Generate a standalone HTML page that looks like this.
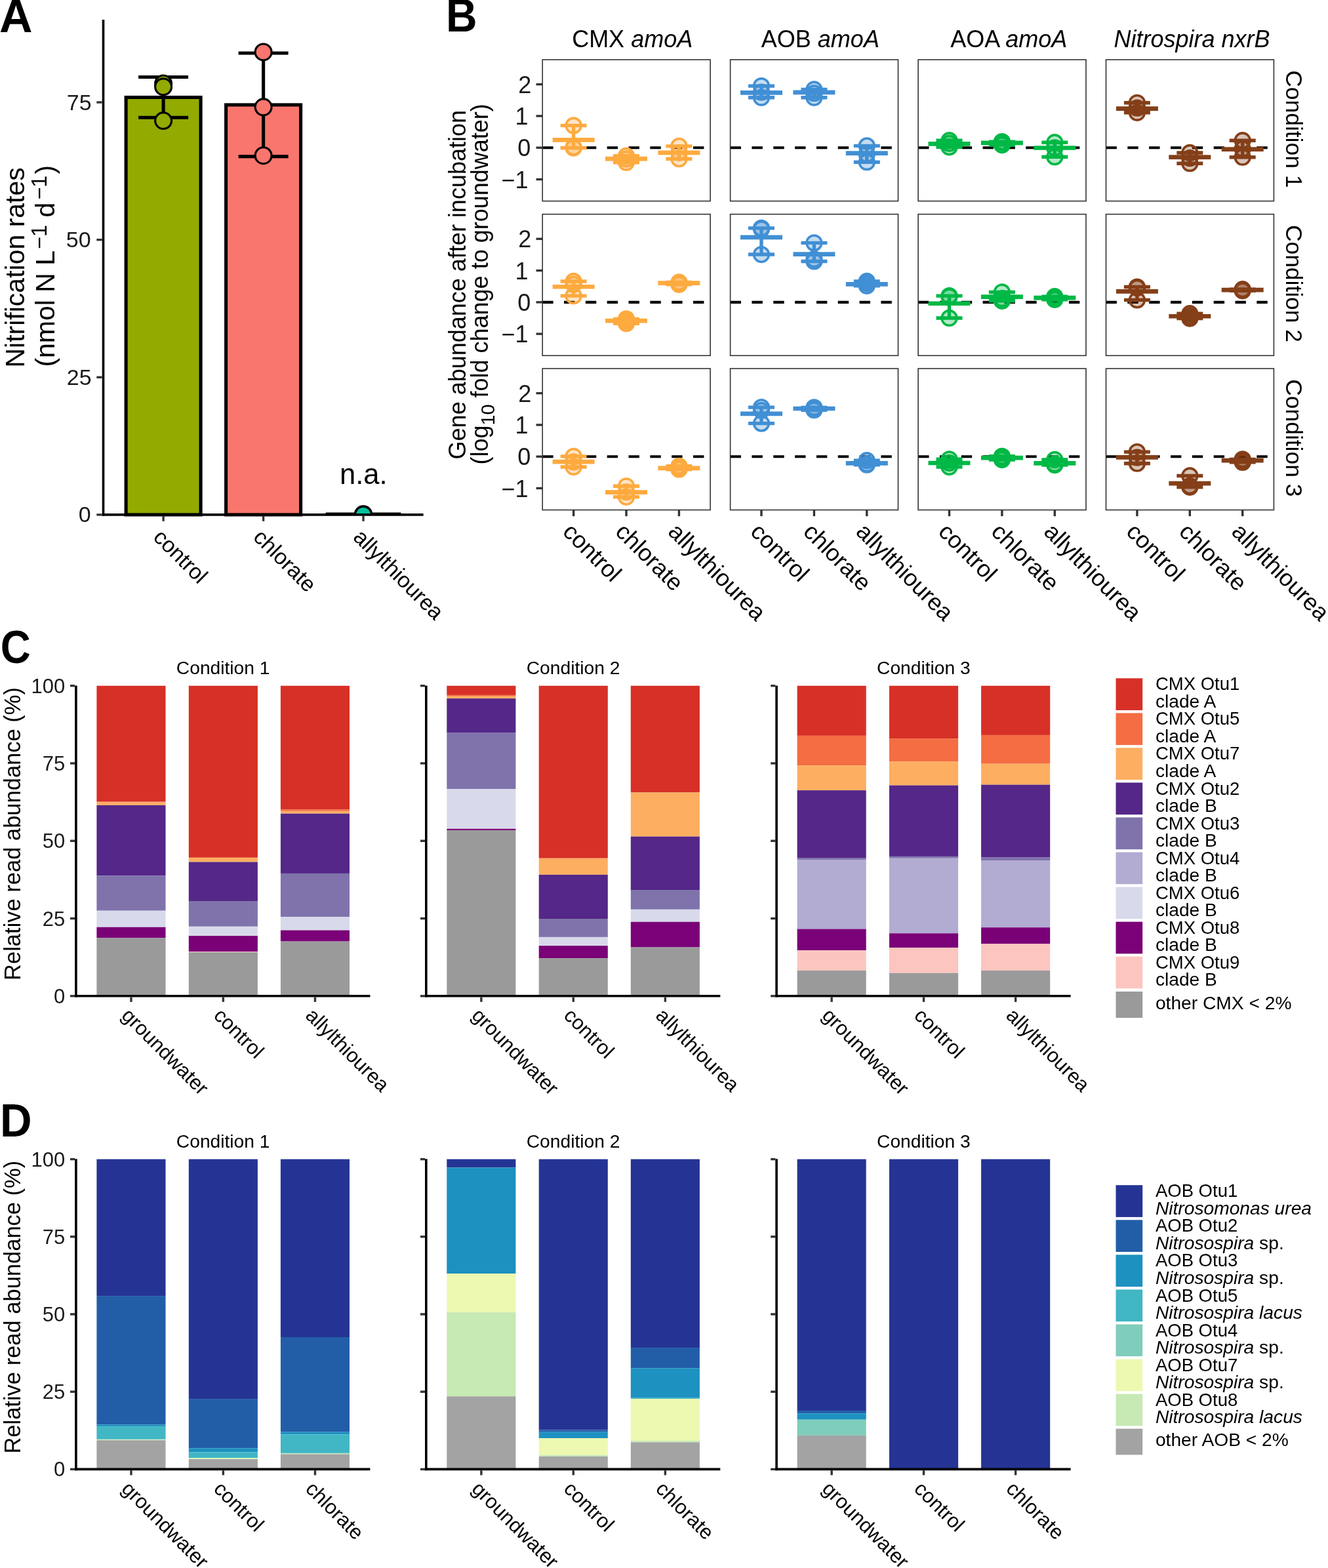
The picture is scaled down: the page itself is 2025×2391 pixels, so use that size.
<!DOCTYPE html>
<html><head><meta charset="utf-8"><title>Figure</title>
<style>
html,body{margin:0;padding:0;background:#fff;}
svg{display:block;}
text{font-family:"Liberation Sans", Arial, Helvetica, sans-serif;}
</style></head>
<body>
<svg width="2025" height="2391" viewBox="0 0 2025 2391">
<rect x="0" y="0" width="2025" height="2391" fill="#fff"/>
<text transform="translate(-0.9,48.8)" font-size="70" font-weight="bold">A</text>
<text transform="translate(680.1,48.2) scale(0.94,1)" font-size="70" font-weight="bold">B</text>
<text transform="translate(0.7,1011.3) scale(0.91,1)" font-size="70" font-weight="bold">C</text>
<text transform="translate(0.1,1733.2) scale(0.96,1)" font-size="70" font-weight="bold">D</text>
<rect x="192.1" y="148.45" width="114" height="636.45" fill="#93AA00" stroke="#000" stroke-width="5.1"/>
<rect x="344.6" y="159.9" width="114" height="625" fill="#F8766D" stroke="#000" stroke-width="5.1"/>
<line x1="496.6" y1="783.7" x2="611.4" y2="783.7" stroke="#000" stroke-width="4.4"/>
<line x1="249.1" y1="117.5" x2="249.1" y2="179.2" stroke="#000" stroke-width="5.1"/>
<line x1="211.1" y1="117.5" x2="287.1" y2="117.5" stroke="#000" stroke-width="5.1"/>
<line x1="211.1" y1="179.2" x2="287.1" y2="179.2" stroke="#000" stroke-width="5.1"/>
<line x1="401.6" y1="81" x2="401.6" y2="238.6" stroke="#000" stroke-width="5.1"/>
<line x1="363.6" y1="81" x2="439.6" y2="81" stroke="#000" stroke-width="5.1"/>
<line x1="363.6" y1="238.6" x2="439.6" y2="238.6" stroke="#000" stroke-width="5.1"/>
<clipPath id="clipA"><rect x="150" y="0" width="520" height="784.9"/></clipPath>
<g clip-path="url(#clipA)">
<circle cx="249.1" cy="127.5" r="12.45" fill="#93AA00" stroke="#000" stroke-width="3.1"/>
<circle cx="249.1" cy="132.3" r="12.45" fill="#93AA00" stroke="#000" stroke-width="3.1"/>
<circle cx="249.1" cy="184.1" r="12.45" fill="#93AA00" stroke="#000" stroke-width="3.1"/>
<circle cx="401.6" cy="79.4" r="12.45" fill="#F8766D" stroke="#000" stroke-width="3.1"/>
<circle cx="401.6" cy="163.3" r="12.45" fill="#F8766D" stroke="#000" stroke-width="3.1"/>
<circle cx="401.6" cy="237.2" r="12.45" fill="#F8766D" stroke="#000" stroke-width="3.1"/>
<circle cx="554" cy="784.6" r="12.5" fill="#00C19F" stroke="#000" stroke-width="3.6"/>
</g>
<line x1="157.5" y1="30" x2="157.5" y2="786.7" stroke="#000" stroke-width="3.6"/>
<line x1="155.7" y1="784.9" x2="645.6" y2="784.9" stroke="#000" stroke-width="3.6"/>
<line x1="147.3" y1="784.9" x2="155.7" y2="784.9" stroke="#333333" stroke-width="3.4"/>
<text transform="translate(138.7,796.4)" font-size="34" text-anchor="end" fill="#1a1a1a">0</text>
<line x1="147.3" y1="575.27" x2="155.7" y2="575.27" stroke="#333333" stroke-width="3.4"/>
<text transform="translate(139.7,586.77)" font-size="34" text-anchor="end" fill="#1a1a1a">25</text>
<line x1="147.3" y1="365.63" x2="155.7" y2="365.63" stroke="#333333" stroke-width="3.4"/>
<text transform="translate(138.7,377.13)" font-size="34" text-anchor="end" fill="#1a1a1a">50</text>
<line x1="147.3" y1="156" x2="155.7" y2="156" stroke="#333333" stroke-width="3.4"/>
<text transform="translate(139.7,167.5)" font-size="34" text-anchor="end" fill="#1a1a1a">75</text>
<line x1="249.1" y1="786.7" x2="249.1" y2="794.8" stroke="#333333" stroke-width="3.4"/>
<line x1="401.6" y1="786.7" x2="401.6" y2="794.8" stroke="#333333" stroke-width="3.4"/>
<line x1="554" y1="786.7" x2="554" y2="794.8" stroke="#333333" stroke-width="3.4"/>
<text transform="translate(554.25,738.2)" font-size="43.5" text-anchor="middle">n.a.</text>
<text transform="translate(232,820.9) rotate(45)" font-size="33.4">control</text>
<text transform="translate(384.5,820.9) rotate(45)" font-size="33.4">chlorate</text>
<text transform="translate(536.9,820.9) rotate(45)" font-size="33.4">allylthiourea</text>
<text transform="translate(37.3,560.5) rotate(-90)" font-size="41">Nitrification rates</text>
<text transform="translate(83.4,559.6) rotate(-90)" font-size="41">(nmol N L<tspan font-size="32.5" dy="-12.3" dx="2">−1</tspan><tspan dy="12.3" dx="0"> d</tspan><tspan font-size="32.5" dy="-12.3" dx="4">−1</tspan><tspan dy="12.3" dx="2">)</tspan></text>
<text transform="translate(964.15,72.2)" font-size="36" text-anchor="middle">CMX <tspan font-style="italic">amoA</tspan></text>
<text transform="translate(1250.85,72.2)" font-size="36" text-anchor="middle">AOB <tspan font-style="italic">amoA</tspan></text>
<text transform="translate(1538.25,72.2)" font-size="36" text-anchor="middle">AOA <tspan font-style="italic">amoA</tspan></text>
<text transform="translate(1817.5,72.2)" font-size="36" text-anchor="middle"><tspan font-style="italic">Nitrospira nxrB</tspan></text>
<line x1="817.5" y1="128.6" x2="827.2" y2="128.6" stroke="#333333" stroke-width="3.4"/>
<text transform="translate(810.4,141.6)" font-size="36" text-anchor="end" fill="#1a1a1a">2</text>
<line x1="817.5" y1="176.9" x2="827.2" y2="176.9" stroke="#333333" stroke-width="3.4"/>
<text transform="translate(805.6,189.9)" font-size="36" text-anchor="end" fill="#1a1a1a">1</text>
<line x1="817.5" y1="225.2" x2="827.2" y2="225.2" stroke="#333333" stroke-width="3.4"/>
<text transform="translate(809.4,238.2)" font-size="36" text-anchor="end" fill="#1a1a1a">0</text>
<line x1="817.5" y1="273.5" x2="827.2" y2="273.5" stroke="#333333" stroke-width="3.4"/>
<text transform="translate(805.6,286.5)" font-size="36" text-anchor="end" fill="#1a1a1a">−1</text>
<text transform="translate(1961.2,196.8) rotate(90)" font-size="35.4" text-anchor="middle">Condition 1</text>
<line x1="827.2" y1="225.2" x2="1083.1" y2="225.2" stroke="#000" stroke-width="4.1" stroke-dasharray="16.4 16.43"/>
<circle cx="874.6" cy="191.4" r="11.35" fill="#FDAA3F" fill-opacity="0.3" stroke="#FDAA3F" stroke-width="3.6"/>
<circle cx="874.6" cy="224.5" r="11.35" fill="#FDAA3F" fill-opacity="0.3" stroke="#FDAA3F" stroke-width="3.6"/>
<circle cx="874.6" cy="225.5" r="11.35" fill="#FDAA3F" fill-opacity="0.3" stroke="#FDAA3F" stroke-width="3.6"/>
<line x1="874.6" y1="191.4" x2="874.6" y2="225.5" stroke="#FDAA3F" stroke-width="5.4"/>
<line x1="854.6" y1="191.4" x2="894.6" y2="191.4" stroke="#FDAA3F" stroke-width="5.4"/>
<line x1="854.6" y1="225.5" x2="894.6" y2="225.5" stroke="#FDAA3F" stroke-width="5.4"/>
<line x1="842.6" y1="213.4" x2="906.6" y2="213.4" stroke="#FDAA3F" stroke-width="6.7"/>
<circle cx="955" cy="237.7" r="11.35" fill="#FDAA3F" fill-opacity="0.3" stroke="#FDAA3F" stroke-width="3.6"/>
<circle cx="955" cy="242.5" r="11.35" fill="#FDAA3F" fill-opacity="0.3" stroke="#FDAA3F" stroke-width="3.6"/>
<circle cx="955" cy="247.7" r="11.35" fill="#FDAA3F" fill-opacity="0.3" stroke="#FDAA3F" stroke-width="3.6"/>
<line x1="955" y1="237.7" x2="955" y2="247.7" stroke="#FDAA3F" stroke-width="5.4"/>
<line x1="935" y1="237.7" x2="975" y2="237.7" stroke="#FDAA3F" stroke-width="5.4"/>
<line x1="935" y1="247.7" x2="975" y2="247.7" stroke="#FDAA3F" stroke-width="5.4"/>
<line x1="923" y1="242.1" x2="987" y2="242.1" stroke="#FDAA3F" stroke-width="6.7"/>
<circle cx="1035.4" cy="222.9" r="11.35" fill="#FDAA3F" fill-opacity="0.3" stroke="#FDAA3F" stroke-width="3.6"/>
<circle cx="1035.4" cy="232.8" r="11.35" fill="#FDAA3F" fill-opacity="0.3" stroke="#FDAA3F" stroke-width="3.6"/>
<circle cx="1035.4" cy="242.2" r="11.35" fill="#FDAA3F" fill-opacity="0.3" stroke="#FDAA3F" stroke-width="3.6"/>
<line x1="1035.4" y1="222.9" x2="1035.4" y2="242.2" stroke="#FDAA3F" stroke-width="5.4"/>
<line x1="1015.4" y1="222.9" x2="1055.4" y2="222.9" stroke="#FDAA3F" stroke-width="5.4"/>
<line x1="1015.4" y1="242.2" x2="1055.4" y2="242.2" stroke="#FDAA3F" stroke-width="5.4"/>
<line x1="1003.4" y1="232.8" x2="1067.4" y2="232.8" stroke="#FDAA3F" stroke-width="6.7"/>
<rect x="827.2" y="91" width="255.9" height="215.6" fill="none" stroke="#333" stroke-width="1.6"/>
<line x1="1113.6" y1="225.2" x2="1369.5" y2="225.2" stroke="#000" stroke-width="4.1" stroke-dasharray="16.4 16.43"/>
<circle cx="1161" cy="131.1" r="11.35" fill="#418FD4" fill-opacity="0.3" stroke="#418FD4" stroke-width="3.6"/>
<circle cx="1161" cy="140.6" r="11.35" fill="#418FD4" fill-opacity="0.3" stroke="#418FD4" stroke-width="3.6"/>
<circle cx="1161" cy="148.8" r="11.35" fill="#418FD4" fill-opacity="0.3" stroke="#418FD4" stroke-width="3.6"/>
<line x1="1161" y1="131.1" x2="1161" y2="148.8" stroke="#418FD4" stroke-width="5.4"/>
<line x1="1141" y1="131.1" x2="1181" y2="131.1" stroke="#418FD4" stroke-width="5.4"/>
<line x1="1141" y1="148.8" x2="1181" y2="148.8" stroke="#418FD4" stroke-width="5.4"/>
<line x1="1129" y1="141.3" x2="1193" y2="141.3" stroke="#418FD4" stroke-width="6.7"/>
<circle cx="1241.4" cy="136.5" r="11.35" fill="#418FD4" fill-opacity="0.3" stroke="#418FD4" stroke-width="3.6"/>
<circle cx="1241.4" cy="142.1" r="11.35" fill="#418FD4" fill-opacity="0.3" stroke="#418FD4" stroke-width="3.6"/>
<circle cx="1241.4" cy="148.8" r="11.35" fill="#418FD4" fill-opacity="0.3" stroke="#418FD4" stroke-width="3.6"/>
<line x1="1241.4" y1="136.5" x2="1241.4" y2="148.8" stroke="#418FD4" stroke-width="5.4"/>
<line x1="1221.4" y1="136.5" x2="1261.4" y2="136.5" stroke="#418FD4" stroke-width="5.4"/>
<line x1="1221.4" y1="148.8" x2="1261.4" y2="148.8" stroke="#418FD4" stroke-width="5.4"/>
<line x1="1209.4" y1="140.9" x2="1273.4" y2="140.9" stroke="#418FD4" stroke-width="6.7"/>
<circle cx="1321.8" cy="222.4" r="11.35" fill="#418FD4" fill-opacity="0.3" stroke="#418FD4" stroke-width="3.6"/>
<circle cx="1321.8" cy="235.2" r="11.35" fill="#418FD4" fill-opacity="0.3" stroke="#418FD4" stroke-width="3.6"/>
<circle cx="1321.8" cy="247.2" r="11.35" fill="#418FD4" fill-opacity="0.3" stroke="#418FD4" stroke-width="3.6"/>
<line x1="1321.8" y1="222.4" x2="1321.8" y2="247.2" stroke="#418FD4" stroke-width="5.4"/>
<line x1="1301.8" y1="222.4" x2="1341.8" y2="222.4" stroke="#418FD4" stroke-width="5.4"/>
<line x1="1301.8" y1="247.2" x2="1341.8" y2="247.2" stroke="#418FD4" stroke-width="5.4"/>
<line x1="1289.8" y1="233.7" x2="1353.8" y2="233.7" stroke="#418FD4" stroke-width="6.7"/>
<rect x="1113.6" y="91" width="255.9" height="215.6" fill="none" stroke="#333" stroke-width="1.6"/>
<line x1="1400.1" y1="225.2" x2="1656" y2="225.2" stroke="#000" stroke-width="4.1" stroke-dasharray="16.4 16.43"/>
<circle cx="1447.5" cy="214.2" r="11.35" fill="#00B845" fill-opacity="0.3" stroke="#00B845" stroke-width="3.6"/>
<circle cx="1447.5" cy="218.7" r="11.35" fill="#00B845" fill-opacity="0.3" stroke="#00B845" stroke-width="3.6"/>
<circle cx="1447.5" cy="224.3" r="11.35" fill="#00B845" fill-opacity="0.3" stroke="#00B845" stroke-width="3.6"/>
<line x1="1447.5" y1="214.2" x2="1447.5" y2="224.3" stroke="#00B845" stroke-width="5.4"/>
<line x1="1427.5" y1="214.2" x2="1467.5" y2="214.2" stroke="#00B845" stroke-width="5.4"/>
<line x1="1427.5" y1="224.3" x2="1467.5" y2="224.3" stroke="#00B845" stroke-width="5.4"/>
<line x1="1415.5" y1="219.4" x2="1479.5" y2="219.4" stroke="#00B845" stroke-width="6.7"/>
<circle cx="1527.9" cy="216.1" r="11.35" fill="#00B845" fill-opacity="0.3" stroke="#00B845" stroke-width="3.6"/>
<circle cx="1527.9" cy="217.5" r="11.35" fill="#00B845" fill-opacity="0.3" stroke="#00B845" stroke-width="3.6"/>
<circle cx="1527.9" cy="221" r="11.35" fill="#00B845" fill-opacity="0.3" stroke="#00B845" stroke-width="3.6"/>
<line x1="1527.9" y1="216.1" x2="1527.9" y2="221" stroke="#00B845" stroke-width="5.4"/>
<line x1="1507.9" y1="216.1" x2="1547.9" y2="216.1" stroke="#00B845" stroke-width="5.4"/>
<line x1="1507.9" y1="221" x2="1547.9" y2="221" stroke="#00B845" stroke-width="5.4"/>
<line x1="1495.9" y1="217.9" x2="1559.9" y2="217.9" stroke="#00B845" stroke-width="6.7"/>
<circle cx="1608.3" cy="217.2" r="11.35" fill="#00B845" fill-opacity="0.3" stroke="#00B845" stroke-width="3.6"/>
<circle cx="1608.3" cy="225.5" r="11.35" fill="#00B845" fill-opacity="0.3" stroke="#00B845" stroke-width="3.6"/>
<circle cx="1608.3" cy="239.3" r="11.35" fill="#00B845" fill-opacity="0.3" stroke="#00B845" stroke-width="3.6"/>
<line x1="1608.3" y1="217.2" x2="1608.3" y2="239.3" stroke="#00B845" stroke-width="5.4"/>
<line x1="1588.3" y1="217.2" x2="1628.3" y2="217.2" stroke="#00B845" stroke-width="5.4"/>
<line x1="1588.3" y1="239.3" x2="1628.3" y2="239.3" stroke="#00B845" stroke-width="5.4"/>
<line x1="1576.3" y1="225.5" x2="1640.3" y2="225.5" stroke="#00B845" stroke-width="6.7"/>
<rect x="1400.1" y="91" width="255.9" height="215.6" fill="none" stroke="#333" stroke-width="1.6"/>
<line x1="1686.5" y1="225.2" x2="1942.4" y2="225.2" stroke="#000" stroke-width="4.1" stroke-dasharray="16.4 16.43"/>
<circle cx="1733.9" cy="156.8" r="11.35" fill="#843F18" fill-opacity="0.3" stroke="#843F18" stroke-width="3.6"/>
<circle cx="1733.9" cy="164.6" r="11.35" fill="#843F18" fill-opacity="0.3" stroke="#843F18" stroke-width="3.6"/>
<circle cx="1733.9" cy="171.8" r="11.35" fill="#843F18" fill-opacity="0.3" stroke="#843F18" stroke-width="3.6"/>
<line x1="1733.9" y1="156.8" x2="1733.9" y2="171.8" stroke="#843F18" stroke-width="5.4"/>
<line x1="1713.9" y1="156.8" x2="1753.9" y2="156.8" stroke="#843F18" stroke-width="5.4"/>
<line x1="1713.9" y1="171.8" x2="1753.9" y2="171.8" stroke="#843F18" stroke-width="5.4"/>
<line x1="1701.9" y1="165.7" x2="1765.9" y2="165.7" stroke="#843F18" stroke-width="6.7"/>
<circle cx="1814.3" cy="233" r="11.35" fill="#843F18" fill-opacity="0.3" stroke="#843F18" stroke-width="3.6"/>
<circle cx="1814.3" cy="241.2" r="11.35" fill="#843F18" fill-opacity="0.3" stroke="#843F18" stroke-width="3.6"/>
<circle cx="1814.3" cy="249.2" r="11.35" fill="#843F18" fill-opacity="0.3" stroke="#843F18" stroke-width="3.6"/>
<line x1="1814.3" y1="233" x2="1814.3" y2="249.2" stroke="#843F18" stroke-width="5.4"/>
<line x1="1794.3" y1="233" x2="1834.3" y2="233" stroke="#843F18" stroke-width="5.4"/>
<line x1="1794.3" y1="249.2" x2="1834.3" y2="249.2" stroke="#843F18" stroke-width="5.4"/>
<line x1="1782.3" y1="239.7" x2="1846.3" y2="239.7" stroke="#843F18" stroke-width="6.7"/>
<circle cx="1894.7" cy="214.2" r="11.35" fill="#843F18" fill-opacity="0.3" stroke="#843F18" stroke-width="3.6"/>
<circle cx="1894.7" cy="227" r="11.35" fill="#843F18" fill-opacity="0.3" stroke="#843F18" stroke-width="3.6"/>
<circle cx="1894.7" cy="239.7" r="11.35" fill="#843F18" fill-opacity="0.3" stroke="#843F18" stroke-width="3.6"/>
<line x1="1894.7" y1="214.2" x2="1894.7" y2="239.7" stroke="#843F18" stroke-width="5.4"/>
<line x1="1874.7" y1="214.2" x2="1914.7" y2="214.2" stroke="#843F18" stroke-width="5.4"/>
<line x1="1874.7" y1="239.7" x2="1914.7" y2="239.7" stroke="#843F18" stroke-width="5.4"/>
<line x1="1862.7" y1="227.7" x2="1926.7" y2="227.7" stroke="#843F18" stroke-width="6.7"/>
<rect x="1686.5" y="91" width="255.9" height="215.6" fill="none" stroke="#333" stroke-width="1.6"/>
<line x1="817.5" y1="364.25" x2="827.2" y2="364.25" stroke="#333333" stroke-width="3.4"/>
<text transform="translate(810.4,377.25)" font-size="36" text-anchor="end" fill="#1a1a1a">2</text>
<line x1="817.5" y1="412.55" x2="827.2" y2="412.55" stroke="#333333" stroke-width="3.4"/>
<text transform="translate(805.6,425.55)" font-size="36" text-anchor="end" fill="#1a1a1a">1</text>
<line x1="817.5" y1="460.85" x2="827.2" y2="460.85" stroke="#333333" stroke-width="3.4"/>
<text transform="translate(809.4,473.85)" font-size="36" text-anchor="end" fill="#1a1a1a">0</text>
<line x1="817.5" y1="509.15" x2="827.2" y2="509.15" stroke="#333333" stroke-width="3.4"/>
<text transform="translate(805.6,522.15)" font-size="36" text-anchor="end" fill="#1a1a1a">−1</text>
<text transform="translate(1961.2,432.45) rotate(90)" font-size="35.4" text-anchor="middle">Condition 2</text>
<line x1="827.2" y1="460.85" x2="1083.1" y2="460.85" stroke="#000" stroke-width="4.1" stroke-dasharray="16.4 16.43"/>
<circle cx="874.6" cy="428.95" r="11.35" fill="#FDAA3F" fill-opacity="0.3" stroke="#FDAA3F" stroke-width="3.6"/>
<circle cx="874.6" cy="433.55" r="11.35" fill="#FDAA3F" fill-opacity="0.3" stroke="#FDAA3F" stroke-width="3.6"/>
<circle cx="874.6" cy="451.15" r="11.35" fill="#FDAA3F" fill-opacity="0.3" stroke="#FDAA3F" stroke-width="3.6"/>
<line x1="874.6" y1="428.95" x2="874.6" y2="451.15" stroke="#FDAA3F" stroke-width="5.4"/>
<line x1="854.6" y1="428.95" x2="894.6" y2="428.95" stroke="#FDAA3F" stroke-width="5.4"/>
<line x1="854.6" y1="451.15" x2="894.6" y2="451.15" stroke="#FDAA3F" stroke-width="5.4"/>
<line x1="842.6" y1="437.25" x2="906.6" y2="437.25" stroke="#FDAA3F" stroke-width="6.7"/>
<circle cx="955" cy="486.35" r="11.35" fill="#FDAA3F" fill-opacity="0.3" stroke="#FDAA3F" stroke-width="3.6"/>
<circle cx="955" cy="489.45" r="11.35" fill="#FDAA3F" fill-opacity="0.3" stroke="#FDAA3F" stroke-width="3.6"/>
<circle cx="955" cy="493.25" r="11.35" fill="#FDAA3F" fill-opacity="0.3" stroke="#FDAA3F" stroke-width="3.6"/>
<line x1="955" y1="486.35" x2="955" y2="493.25" stroke="#FDAA3F" stroke-width="5.4"/>
<line x1="935" y1="486.35" x2="975" y2="486.35" stroke="#FDAA3F" stroke-width="5.4"/>
<line x1="935" y1="493.25" x2="975" y2="493.25" stroke="#FDAA3F" stroke-width="5.4"/>
<line x1="923" y1="489.05" x2="987" y2="489.05" stroke="#FDAA3F" stroke-width="6.7"/>
<circle cx="1035.4" cy="430.45" r="11.35" fill="#FDAA3F" fill-opacity="0.3" stroke="#FDAA3F" stroke-width="3.6"/>
<circle cx="1035.4" cy="431.55" r="11.35" fill="#FDAA3F" fill-opacity="0.3" stroke="#FDAA3F" stroke-width="3.6"/>
<circle cx="1035.4" cy="433.75" r="11.35" fill="#FDAA3F" fill-opacity="0.3" stroke="#FDAA3F" stroke-width="3.6"/>
<line x1="1035.4" y1="430.45" x2="1035.4" y2="433.75" stroke="#FDAA3F" stroke-width="5.4"/>
<line x1="1015.4" y1="430.45" x2="1055.4" y2="430.45" stroke="#FDAA3F" stroke-width="5.4"/>
<line x1="1015.4" y1="433.75" x2="1055.4" y2="433.75" stroke="#FDAA3F" stroke-width="5.4"/>
<line x1="1003.4" y1="431.55" x2="1067.4" y2="431.55" stroke="#FDAA3F" stroke-width="6.7"/>
<rect x="827.2" y="326.65" width="255.9" height="215.6" fill="none" stroke="#333" stroke-width="1.6"/>
<line x1="1113.6" y1="460.85" x2="1369.5" y2="460.85" stroke="#000" stroke-width="4.1" stroke-dasharray="16.4 16.43"/>
<circle cx="1161" cy="347.85" r="11.35" fill="#418FD4" fill-opacity="0.3" stroke="#418FD4" stroke-width="3.6"/>
<circle cx="1161" cy="349.35" r="11.35" fill="#418FD4" fill-opacity="0.3" stroke="#418FD4" stroke-width="3.6"/>
<circle cx="1161" cy="388.05" r="11.35" fill="#418FD4" fill-opacity="0.3" stroke="#418FD4" stroke-width="3.6"/>
<line x1="1161" y1="347.85" x2="1161" y2="388.05" stroke="#418FD4" stroke-width="5.4"/>
<line x1="1141" y1="347.85" x2="1181" y2="347.85" stroke="#418FD4" stroke-width="5.4"/>
<line x1="1141" y1="388.05" x2="1181" y2="388.05" stroke="#418FD4" stroke-width="5.4"/>
<line x1="1129" y1="361.85" x2="1193" y2="361.85" stroke="#418FD4" stroke-width="6.7"/>
<circle cx="1241.4" cy="370.35" r="11.35" fill="#418FD4" fill-opacity="0.3" stroke="#418FD4" stroke-width="3.6"/>
<circle cx="1241.4" cy="395.15" r="11.35" fill="#418FD4" fill-opacity="0.3" stroke="#418FD4" stroke-width="3.6"/>
<circle cx="1241.4" cy="398.45" r="11.35" fill="#418FD4" fill-opacity="0.3" stroke="#418FD4" stroke-width="3.6"/>
<line x1="1241.4" y1="370.35" x2="1241.4" y2="398.45" stroke="#418FD4" stroke-width="5.4"/>
<line x1="1221.4" y1="370.35" x2="1261.4" y2="370.35" stroke="#418FD4" stroke-width="5.4"/>
<line x1="1221.4" y1="398.45" x2="1261.4" y2="398.45" stroke="#418FD4" stroke-width="5.4"/>
<line x1="1209.4" y1="387.65" x2="1273.4" y2="387.65" stroke="#418FD4" stroke-width="6.7"/>
<circle cx="1321.8" cy="428.95" r="11.35" fill="#418FD4" fill-opacity="0.3" stroke="#418FD4" stroke-width="3.6"/>
<circle cx="1321.8" cy="432.05" r="11.35" fill="#418FD4" fill-opacity="0.3" stroke="#418FD4" stroke-width="3.6"/>
<circle cx="1321.8" cy="435.75" r="11.35" fill="#418FD4" fill-opacity="0.3" stroke="#418FD4" stroke-width="3.6"/>
<line x1="1321.8" y1="428.95" x2="1321.8" y2="435.75" stroke="#418FD4" stroke-width="5.4"/>
<line x1="1301.8" y1="428.95" x2="1341.8" y2="428.95" stroke="#418FD4" stroke-width="5.4"/>
<line x1="1301.8" y1="435.75" x2="1341.8" y2="435.75" stroke="#418FD4" stroke-width="5.4"/>
<line x1="1289.8" y1="433.45" x2="1353.8" y2="433.45" stroke="#418FD4" stroke-width="6.7"/>
<rect x="1113.6" y="326.65" width="255.9" height="215.6" fill="none" stroke="#333" stroke-width="1.6"/>
<line x1="1400.1" y1="460.85" x2="1656" y2="460.85" stroke="#000" stroke-width="4.1" stroke-dasharray="16.4 16.43"/>
<circle cx="1447.5" cy="451.15" r="11.35" fill="#00B845" fill-opacity="0.3" stroke="#00B845" stroke-width="3.6"/>
<circle cx="1447.5" cy="452.55" r="11.35" fill="#00B845" fill-opacity="0.3" stroke="#00B845" stroke-width="3.6"/>
<circle cx="1447.5" cy="484.95" r="11.35" fill="#00B845" fill-opacity="0.3" stroke="#00B845" stroke-width="3.6"/>
<line x1="1447.5" y1="451.15" x2="1447.5" y2="484.95" stroke="#00B845" stroke-width="5.4"/>
<line x1="1427.5" y1="451.15" x2="1467.5" y2="451.15" stroke="#00B845" stroke-width="5.4"/>
<line x1="1427.5" y1="484.95" x2="1467.5" y2="484.95" stroke="#00B845" stroke-width="5.4"/>
<line x1="1415.5" y1="462.75" x2="1479.5" y2="462.75" stroke="#00B845" stroke-width="6.7"/>
<circle cx="1527.9" cy="445.45" r="11.35" fill="#00B845" fill-opacity="0.3" stroke="#00B845" stroke-width="3.6"/>
<circle cx="1527.9" cy="455.25" r="11.35" fill="#00B845" fill-opacity="0.3" stroke="#00B845" stroke-width="3.6"/>
<circle cx="1527.9" cy="458.75" r="11.35" fill="#00B845" fill-opacity="0.3" stroke="#00B845" stroke-width="3.6"/>
<line x1="1527.9" y1="445.45" x2="1527.9" y2="458.75" stroke="#00B845" stroke-width="5.4"/>
<line x1="1507.9" y1="445.45" x2="1547.9" y2="445.45" stroke="#00B845" stroke-width="5.4"/>
<line x1="1507.9" y1="458.75" x2="1547.9" y2="458.75" stroke="#00B845" stroke-width="5.4"/>
<line x1="1495.9" y1="452.65" x2="1559.9" y2="452.65" stroke="#00B845" stroke-width="6.7"/>
<circle cx="1608.3" cy="452.25" r="11.35" fill="#00B845" fill-opacity="0.3" stroke="#00B845" stroke-width="3.6"/>
<circle cx="1608.3" cy="453.55" r="11.35" fill="#00B845" fill-opacity="0.3" stroke="#00B845" stroke-width="3.6"/>
<circle cx="1608.3" cy="456.75" r="11.35" fill="#00B845" fill-opacity="0.3" stroke="#00B845" stroke-width="3.6"/>
<line x1="1608.3" y1="452.25" x2="1608.3" y2="456.75" stroke="#00B845" stroke-width="5.4"/>
<line x1="1588.3" y1="452.25" x2="1628.3" y2="452.25" stroke="#00B845" stroke-width="5.4"/>
<line x1="1588.3" y1="456.75" x2="1628.3" y2="456.75" stroke="#00B845" stroke-width="5.4"/>
<line x1="1576.3" y1="454.15" x2="1640.3" y2="454.15" stroke="#00B845" stroke-width="6.7"/>
<rect x="1400.1" y="326.65" width="255.9" height="215.6" fill="none" stroke="#333" stroke-width="1.6"/>
<line x1="1686.5" y1="460.85" x2="1942.4" y2="460.85" stroke="#000" stroke-width="4.1" stroke-dasharray="16.4 16.43"/>
<circle cx="1733.9" cy="437.55" r="11.35" fill="#843F18" fill-opacity="0.3" stroke="#843F18" stroke-width="3.6"/>
<circle cx="1733.9" cy="439.05" r="11.35" fill="#843F18" fill-opacity="0.3" stroke="#843F18" stroke-width="3.6"/>
<circle cx="1733.9" cy="457.45" r="11.35" fill="#843F18" fill-opacity="0.3" stroke="#843F18" stroke-width="3.6"/>
<line x1="1733.9" y1="437.55" x2="1733.9" y2="457.45" stroke="#843F18" stroke-width="5.4"/>
<line x1="1713.9" y1="437.55" x2="1753.9" y2="437.55" stroke="#843F18" stroke-width="5.4"/>
<line x1="1713.9" y1="457.45" x2="1753.9" y2="457.45" stroke="#843F18" stroke-width="5.4"/>
<line x1="1701.9" y1="444.45" x2="1765.9" y2="444.45" stroke="#843F18" stroke-width="6.7"/>
<circle cx="1814.3" cy="478.25" r="11.35" fill="#843F18" fill-opacity="0.3" stroke="#843F18" stroke-width="3.6"/>
<circle cx="1814.3" cy="482.05" r="11.35" fill="#843F18" fill-opacity="0.3" stroke="#843F18" stroke-width="3.6"/>
<circle cx="1814.3" cy="485.55" r="11.35" fill="#843F18" fill-opacity="0.3" stroke="#843F18" stroke-width="3.6"/>
<line x1="1814.3" y1="478.25" x2="1814.3" y2="485.55" stroke="#843F18" stroke-width="5.4"/>
<line x1="1794.3" y1="478.25" x2="1834.3" y2="478.25" stroke="#843F18" stroke-width="5.4"/>
<line x1="1794.3" y1="485.55" x2="1834.3" y2="485.55" stroke="#843F18" stroke-width="5.4"/>
<line x1="1782.3" y1="482.25" x2="1846.3" y2="482.25" stroke="#843F18" stroke-width="6.7"/>
<circle cx="1894.7" cy="441.25" r="11.35" fill="#843F18" fill-opacity="0.3" stroke="#843F18" stroke-width="3.6"/>
<circle cx="1894.7" cy="442.05" r="11.35" fill="#843F18" fill-opacity="0.3" stroke="#843F18" stroke-width="3.6"/>
<circle cx="1894.7" cy="443.25" r="11.35" fill="#843F18" fill-opacity="0.3" stroke="#843F18" stroke-width="3.6"/>
<line x1="1894.7" y1="441.25" x2="1894.7" y2="443.25" stroke="#843F18" stroke-width="5.4"/>
<line x1="1874.7" y1="441.25" x2="1914.7" y2="441.25" stroke="#843F18" stroke-width="5.4"/>
<line x1="1874.7" y1="443.25" x2="1914.7" y2="443.25" stroke="#843F18" stroke-width="5.4"/>
<line x1="1862.7" y1="442.15" x2="1926.7" y2="442.15" stroke="#843F18" stroke-width="6.7"/>
<rect x="1686.5" y="326.65" width="255.9" height="215.6" fill="none" stroke="#333" stroke-width="1.6"/>
<line x1="817.5" y1="599.6" x2="827.2" y2="599.6" stroke="#333333" stroke-width="3.4"/>
<text transform="translate(810.4,612.6)" font-size="36" text-anchor="end" fill="#1a1a1a">2</text>
<line x1="817.5" y1="647.9" x2="827.2" y2="647.9" stroke="#333333" stroke-width="3.4"/>
<text transform="translate(805.6,660.9)" font-size="36" text-anchor="end" fill="#1a1a1a">1</text>
<line x1="817.5" y1="696.2" x2="827.2" y2="696.2" stroke="#333333" stroke-width="3.4"/>
<text transform="translate(809.4,709.2)" font-size="36" text-anchor="end" fill="#1a1a1a">0</text>
<line x1="817.5" y1="744.5" x2="827.2" y2="744.5" stroke="#333333" stroke-width="3.4"/>
<text transform="translate(805.6,757.5)" font-size="36" text-anchor="end" fill="#1a1a1a">−1</text>
<text transform="translate(1961.2,667.8) rotate(90)" font-size="35.4" text-anchor="middle">Condition 3</text>
<line x1="827.2" y1="696.2" x2="1083.1" y2="696.2" stroke="#000" stroke-width="4.1" stroke-dasharray="16.4 16.43"/>
<circle cx="874.6" cy="695.9" r="11.35" fill="#FDAA3F" fill-opacity="0.3" stroke="#FDAA3F" stroke-width="3.6"/>
<circle cx="874.6" cy="704.5" r="11.35" fill="#FDAA3F" fill-opacity="0.3" stroke="#FDAA3F" stroke-width="3.6"/>
<circle cx="874.6" cy="712" r="11.35" fill="#FDAA3F" fill-opacity="0.3" stroke="#FDAA3F" stroke-width="3.6"/>
<line x1="874.6" y1="695.9" x2="874.6" y2="712" stroke="#FDAA3F" stroke-width="5.4"/>
<line x1="854.6" y1="695.9" x2="894.6" y2="695.9" stroke="#FDAA3F" stroke-width="5.4"/>
<line x1="854.6" y1="712" x2="894.6" y2="712" stroke="#FDAA3F" stroke-width="5.4"/>
<line x1="842.6" y1="704.2" x2="906.6" y2="704.2" stroke="#FDAA3F" stroke-width="6.7"/>
<circle cx="955" cy="741.3" r="11.35" fill="#FDAA3F" fill-opacity="0.3" stroke="#FDAA3F" stroke-width="3.6"/>
<circle cx="955" cy="750.3" r="11.35" fill="#FDAA3F" fill-opacity="0.3" stroke="#FDAA3F" stroke-width="3.6"/>
<circle cx="955" cy="757.8" r="11.35" fill="#FDAA3F" fill-opacity="0.3" stroke="#FDAA3F" stroke-width="3.6"/>
<line x1="955" y1="741.3" x2="955" y2="757.8" stroke="#FDAA3F" stroke-width="5.4"/>
<line x1="935" y1="741.3" x2="975" y2="741.3" stroke="#FDAA3F" stroke-width="5.4"/>
<line x1="935" y1="757.8" x2="975" y2="757.8" stroke="#FDAA3F" stroke-width="5.4"/>
<line x1="923" y1="750.7" x2="987" y2="750.7" stroke="#FDAA3F" stroke-width="6.7"/>
<circle cx="1035.4" cy="710.8" r="11.35" fill="#FDAA3F" fill-opacity="0.3" stroke="#FDAA3F" stroke-width="3.6"/>
<circle cx="1035.4" cy="714.5" r="11.35" fill="#FDAA3F" fill-opacity="0.3" stroke="#FDAA3F" stroke-width="3.6"/>
<circle cx="1035.4" cy="715.7" r="11.35" fill="#FDAA3F" fill-opacity="0.3" stroke="#FDAA3F" stroke-width="3.6"/>
<line x1="1035.4" y1="710.8" x2="1035.4" y2="715.7" stroke="#FDAA3F" stroke-width="5.4"/>
<line x1="1015.4" y1="710.8" x2="1055.4" y2="710.8" stroke="#FDAA3F" stroke-width="5.4"/>
<line x1="1015.4" y1="715.7" x2="1055.4" y2="715.7" stroke="#FDAA3F" stroke-width="5.4"/>
<line x1="1003.4" y1="713.8" x2="1067.4" y2="713.8" stroke="#FDAA3F" stroke-width="6.7"/>
<rect x="827.2" y="562" width="255.9" height="215.6" fill="none" stroke="#333" stroke-width="1.6"/>
<line x1="1113.6" y1="696.2" x2="1369.5" y2="696.2" stroke="#000" stroke-width="4.1" stroke-dasharray="16.4 16.43"/>
<circle cx="1161" cy="621.1" r="11.35" fill="#418FD4" fill-opacity="0.3" stroke="#418FD4" stroke-width="3.6"/>
<circle cx="1161" cy="626" r="11.35" fill="#418FD4" fill-opacity="0.3" stroke="#418FD4" stroke-width="3.6"/>
<circle cx="1161" cy="645.6" r="11.35" fill="#418FD4" fill-opacity="0.3" stroke="#418FD4" stroke-width="3.6"/>
<line x1="1161" y1="621.1" x2="1161" y2="645.6" stroke="#418FD4" stroke-width="5.4"/>
<line x1="1141" y1="621.1" x2="1181" y2="621.1" stroke="#418FD4" stroke-width="5.4"/>
<line x1="1141" y1="645.6" x2="1181" y2="645.6" stroke="#418FD4" stroke-width="5.4"/>
<line x1="1129" y1="630.9" x2="1193" y2="630.9" stroke="#418FD4" stroke-width="6.7"/>
<circle cx="1241.4" cy="621.4" r="11.35" fill="#418FD4" fill-opacity="0.3" stroke="#418FD4" stroke-width="3.6"/>
<circle cx="1241.4" cy="623" r="11.35" fill="#418FD4" fill-opacity="0.3" stroke="#418FD4" stroke-width="3.6"/>
<circle cx="1241.4" cy="625.2" r="11.35" fill="#418FD4" fill-opacity="0.3" stroke="#418FD4" stroke-width="3.6"/>
<line x1="1241.4" y1="621.4" x2="1241.4" y2="625.2" stroke="#418FD4" stroke-width="5.4"/>
<line x1="1221.4" y1="621.4" x2="1261.4" y2="621.4" stroke="#418FD4" stroke-width="5.4"/>
<line x1="1221.4" y1="625.2" x2="1261.4" y2="625.2" stroke="#418FD4" stroke-width="5.4"/>
<line x1="1209.4" y1="623" x2="1273.4" y2="623" stroke="#418FD4" stroke-width="6.7"/>
<circle cx="1321.8" cy="702.2" r="11.35" fill="#418FD4" fill-opacity="0.3" stroke="#418FD4" stroke-width="3.6"/>
<circle cx="1321.8" cy="707.5" r="11.35" fill="#418FD4" fill-opacity="0.3" stroke="#418FD4" stroke-width="3.6"/>
<circle cx="1321.8" cy="708.7" r="11.35" fill="#418FD4" fill-opacity="0.3" stroke="#418FD4" stroke-width="3.6"/>
<line x1="1321.8" y1="702.2" x2="1321.8" y2="708.7" stroke="#418FD4" stroke-width="5.4"/>
<line x1="1301.8" y1="702.2" x2="1341.8" y2="702.2" stroke="#418FD4" stroke-width="5.4"/>
<line x1="1301.8" y1="708.7" x2="1341.8" y2="708.7" stroke="#418FD4" stroke-width="5.4"/>
<line x1="1289.8" y1="706.4" x2="1353.8" y2="706.4" stroke="#418FD4" stroke-width="6.7"/>
<rect x="1113.6" y="562" width="255.9" height="215.6" fill="none" stroke="#333" stroke-width="1.6"/>
<line x1="1400.1" y1="696.2" x2="1656" y2="696.2" stroke="#000" stroke-width="4.1" stroke-dasharray="16.4 16.43"/>
<circle cx="1447.5" cy="700.3" r="11.35" fill="#00B845" fill-opacity="0.3" stroke="#00B845" stroke-width="3.6"/>
<circle cx="1447.5" cy="706" r="11.35" fill="#00B845" fill-opacity="0.3" stroke="#00B845" stroke-width="3.6"/>
<circle cx="1447.5" cy="712" r="11.35" fill="#00B845" fill-opacity="0.3" stroke="#00B845" stroke-width="3.6"/>
<line x1="1447.5" y1="700.3" x2="1447.5" y2="712" stroke="#00B845" stroke-width="5.4"/>
<line x1="1427.5" y1="700.3" x2="1467.5" y2="700.3" stroke="#00B845" stroke-width="5.4"/>
<line x1="1427.5" y1="712" x2="1467.5" y2="712" stroke="#00B845" stroke-width="5.4"/>
<line x1="1415.5" y1="706" x2="1479.5" y2="706" stroke="#00B845" stroke-width="6.7"/>
<circle cx="1527.9" cy="695.8" r="11.35" fill="#00B845" fill-opacity="0.3" stroke="#00B845" stroke-width="3.6"/>
<circle cx="1527.9" cy="698.5" r="11.35" fill="#00B845" fill-opacity="0.3" stroke="#00B845" stroke-width="3.6"/>
<circle cx="1527.9" cy="701" r="11.35" fill="#00B845" fill-opacity="0.3" stroke="#00B845" stroke-width="3.6"/>
<line x1="1527.9" y1="695.8" x2="1527.9" y2="701" stroke="#00B845" stroke-width="5.4"/>
<line x1="1507.9" y1="695.8" x2="1547.9" y2="695.8" stroke="#00B845" stroke-width="5.4"/>
<line x1="1507.9" y1="701" x2="1547.9" y2="701" stroke="#00B845" stroke-width="5.4"/>
<line x1="1495.9" y1="698.2" x2="1559.9" y2="698.2" stroke="#00B845" stroke-width="6.7"/>
<circle cx="1608.3" cy="701" r="11.35" fill="#00B845" fill-opacity="0.3" stroke="#00B845" stroke-width="3.6"/>
<circle cx="1608.3" cy="707.5" r="11.35" fill="#00B845" fill-opacity="0.3" stroke="#00B845" stroke-width="3.6"/>
<circle cx="1608.3" cy="709" r="11.35" fill="#00B845" fill-opacity="0.3" stroke="#00B845" stroke-width="3.6"/>
<line x1="1608.3" y1="701" x2="1608.3" y2="709" stroke="#00B845" stroke-width="5.4"/>
<line x1="1588.3" y1="701" x2="1628.3" y2="701" stroke="#00B845" stroke-width="5.4"/>
<line x1="1588.3" y1="709" x2="1628.3" y2="709" stroke="#00B845" stroke-width="5.4"/>
<line x1="1576.3" y1="706.4" x2="1640.3" y2="706.4" stroke="#00B845" stroke-width="6.7"/>
<rect x="1400.1" y="562" width="255.9" height="215.6" fill="none" stroke="#333" stroke-width="1.6"/>
<line x1="1686.5" y1="696.2" x2="1942.4" y2="696.2" stroke="#000" stroke-width="4.1" stroke-dasharray="16.4 16.43"/>
<circle cx="1733.9" cy="689.1" r="11.35" fill="#843F18" fill-opacity="0.3" stroke="#843F18" stroke-width="3.6"/>
<circle cx="1733.9" cy="697.7" r="11.35" fill="#843F18" fill-opacity="0.3" stroke="#843F18" stroke-width="3.6"/>
<circle cx="1733.9" cy="706.7" r="11.35" fill="#843F18" fill-opacity="0.3" stroke="#843F18" stroke-width="3.6"/>
<line x1="1733.9" y1="689.1" x2="1733.9" y2="706.7" stroke="#843F18" stroke-width="5.4"/>
<line x1="1713.9" y1="689.1" x2="1753.9" y2="689.1" stroke="#843F18" stroke-width="5.4"/>
<line x1="1713.9" y1="706.7" x2="1753.9" y2="706.7" stroke="#843F18" stroke-width="5.4"/>
<line x1="1701.9" y1="697.4" x2="1765.9" y2="697.4" stroke="#843F18" stroke-width="6.7"/>
<circle cx="1814.3" cy="725.5" r="11.35" fill="#843F18" fill-opacity="0.3" stroke="#843F18" stroke-width="3.6"/>
<circle cx="1814.3" cy="741" r="11.35" fill="#843F18" fill-opacity="0.3" stroke="#843F18" stroke-width="3.6"/>
<circle cx="1814.3" cy="742.8" r="11.35" fill="#843F18" fill-opacity="0.3" stroke="#843F18" stroke-width="3.6"/>
<line x1="1814.3" y1="725.5" x2="1814.3" y2="742.8" stroke="#843F18" stroke-width="5.4"/>
<line x1="1794.3" y1="725.5" x2="1834.3" y2="725.5" stroke="#843F18" stroke-width="5.4"/>
<line x1="1794.3" y1="742.8" x2="1834.3" y2="742.8" stroke="#843F18" stroke-width="5.4"/>
<line x1="1782.3" y1="737.1" x2="1846.3" y2="737.1" stroke="#843F18" stroke-width="6.7"/>
<circle cx="1894.7" cy="700.4" r="11.35" fill="#843F18" fill-opacity="0.3" stroke="#843F18" stroke-width="3.6"/>
<circle cx="1894.7" cy="702" r="11.35" fill="#843F18" fill-opacity="0.3" stroke="#843F18" stroke-width="3.6"/>
<circle cx="1894.7" cy="704.9" r="11.35" fill="#843F18" fill-opacity="0.3" stroke="#843F18" stroke-width="3.6"/>
<line x1="1894.7" y1="700.4" x2="1894.7" y2="704.9" stroke="#843F18" stroke-width="5.4"/>
<line x1="1874.7" y1="700.4" x2="1914.7" y2="700.4" stroke="#843F18" stroke-width="5.4"/>
<line x1="1874.7" y1="704.9" x2="1914.7" y2="704.9" stroke="#843F18" stroke-width="5.4"/>
<line x1="1862.7" y1="702.2" x2="1926.7" y2="702.2" stroke="#843F18" stroke-width="6.7"/>
<rect x="1686.5" y="562" width="255.9" height="215.6" fill="none" stroke="#333" stroke-width="1.6"/>
<line x1="874.6" y1="777.6" x2="874.6" y2="787.2" stroke="#333333" stroke-width="3.4"/>
<text transform="translate(856.2,812.8) rotate(45)" font-size="36">control</text>
<line x1="955" y1="777.6" x2="955" y2="787.2" stroke="#333333" stroke-width="3.4"/>
<text transform="translate(936.6,812.8) rotate(45)" font-size="36">chlorate</text>
<line x1="1035.4" y1="777.6" x2="1035.4" y2="787.2" stroke="#333333" stroke-width="3.4"/>
<text transform="translate(1017,812.8) rotate(45)" font-size="36">allylthiourea</text>
<line x1="1161" y1="777.6" x2="1161" y2="787.2" stroke="#333333" stroke-width="3.4"/>
<text transform="translate(1142.6,812.8) rotate(45)" font-size="36">control</text>
<line x1="1241.4" y1="777.6" x2="1241.4" y2="787.2" stroke="#333333" stroke-width="3.4"/>
<text transform="translate(1223,812.8) rotate(45)" font-size="36">chlorate</text>
<line x1="1321.8" y1="777.6" x2="1321.8" y2="787.2" stroke="#333333" stroke-width="3.4"/>
<text transform="translate(1303.4,812.8) rotate(45)" font-size="36">allylthiourea</text>
<line x1="1447.5" y1="777.6" x2="1447.5" y2="787.2" stroke="#333333" stroke-width="3.4"/>
<text transform="translate(1429.1,812.8) rotate(45)" font-size="36">control</text>
<line x1="1527.9" y1="777.6" x2="1527.9" y2="787.2" stroke="#333333" stroke-width="3.4"/>
<text transform="translate(1509.5,812.8) rotate(45)" font-size="36">chlorate</text>
<line x1="1608.3" y1="777.6" x2="1608.3" y2="787.2" stroke="#333333" stroke-width="3.4"/>
<text transform="translate(1589.9,812.8) rotate(45)" font-size="36">allylthiourea</text>
<line x1="1733.9" y1="777.6" x2="1733.9" y2="787.2" stroke="#333333" stroke-width="3.4"/>
<text transform="translate(1715.5,812.8) rotate(45)" font-size="36">control</text>
<line x1="1814.3" y1="777.6" x2="1814.3" y2="787.2" stroke="#333333" stroke-width="3.4"/>
<text transform="translate(1795.9,812.8) rotate(45)" font-size="36">chlorate</text>
<line x1="1894.7" y1="777.6" x2="1894.7" y2="787.2" stroke="#333333" stroke-width="3.4"/>
<text transform="translate(1876.3,812.8) rotate(45)" font-size="36">allylthiourea</text>
<text transform="translate(710.2,434.2) rotate(-90)" font-size="36" text-anchor="middle">Gene abundance after incubation</text>
<text transform="translate(744,433.4) rotate(-90)" font-size="36" text-anchor="middle">(log<tspan font-size="28.8" dy="10.1">10</tspan><tspan dy="-10.1"> fold change to groundwater)</tspan></text>
<rect x="147.4" y="1045.7" width="105.1" height="176.47" fill="#D73027"/>
<rect x="147.4" y="1222.17" width="105.1" height="1.42" fill="#F46D43"/>
<rect x="147.4" y="1223.59" width="105.1" height="4.26" fill="#FDAE61"/>
<rect x="147.4" y="1227.84" width="105.1" height="107.39" fill="#542788"/>
<rect x="147.4" y="1335.24" width="105.1" height="53.46" fill="#8073AC"/>
<rect x="147.4" y="1388.7" width="105.1" height="25.07" fill="#D8DAEB"/>
<rect x="147.4" y="1413.77" width="105.1" height="16.56" fill="#7A0177"/>
<rect x="147.4" y="1430.33" width="105.1" height="88.47" fill="#9A9A9A"/>
<rect x="287.8" y="1045.7" width="105.1" height="262.1" fill="#D73027"/>
<rect x="287.8" y="1307.8" width="105.1" height="6.62" fill="#FDAE61"/>
<rect x="287.8" y="1314.42" width="105.1" height="59.61" fill="#542788"/>
<rect x="287.8" y="1374.03" width="105.1" height="38.79" fill="#8073AC"/>
<rect x="287.8" y="1412.83" width="105.1" height="14.19" fill="#D8DAEB"/>
<rect x="287.8" y="1427.02" width="105.1" height="24.13" fill="#7A0177"/>
<rect x="287.8" y="1451.15" width="105.1" height="0.95" fill="#FCC5C0"/>
<rect x="287.8" y="1452.09" width="105.1" height="66.71" fill="#9A9A9A"/>
<rect x="427.9" y="1045.7" width="105.1" height="188.77" fill="#D73027"/>
<rect x="427.9" y="1234.47" width="105.1" height="2.37" fill="#F46D43"/>
<rect x="427.9" y="1236.83" width="105.1" height="3.78" fill="#FDAE61"/>
<rect x="427.9" y="1240.62" width="105.1" height="91.31" fill="#542788"/>
<rect x="427.9" y="1331.93" width="105.1" height="66.23" fill="#8073AC"/>
<rect x="427.9" y="1398.16" width="105.1" height="20.34" fill="#D8DAEB"/>
<rect x="427.9" y="1418.5" width="105.1" height="17.03" fill="#7A0177"/>
<rect x="427.9" y="1435.53" width="105.1" height="83.27" fill="#9A9A9A"/>
<line x1="107" y1="1518.8" x2="114.1" y2="1518.8" stroke="#333333" stroke-width="3.4"/>
<text transform="translate(99.3,1529.8)" font-size="31" text-anchor="end" fill="#1a1a1a">0</text>
<line x1="107" y1="1400.53" x2="114.1" y2="1400.53" stroke="#333333" stroke-width="3.4"/>
<text transform="translate(99.3,1411.53)" font-size="31" text-anchor="end" fill="#1a1a1a">25</text>
<line x1="107" y1="1282.25" x2="114.1" y2="1282.25" stroke="#333333" stroke-width="3.4"/>
<text transform="translate(99.3,1293.25)" font-size="31" text-anchor="end" fill="#1a1a1a">50</text>
<line x1="107" y1="1163.97" x2="114.1" y2="1163.97" stroke="#333333" stroke-width="3.4"/>
<text transform="translate(99.3,1174.97)" font-size="31" text-anchor="end" fill="#1a1a1a">75</text>
<line x1="107" y1="1045.7" x2="114.1" y2="1045.7" stroke="#333333" stroke-width="3.4"/>
<text transform="translate(99.3,1056.7)" font-size="31" text-anchor="end" fill="#1a1a1a">100</text>
<line x1="115.9" y1="1045.4" x2="115.9" y2="1520.6" stroke="#000" stroke-width="3.6"/>
<line x1="114.1" y1="1518.8" x2="564.4" y2="1518.8" stroke="#000" stroke-width="3.6"/>
<line x1="199.95" y1="1520.6" x2="199.95" y2="1527.8" stroke="#333333" stroke-width="3.4"/>
<text transform="translate(183.75,1550.2) rotate(45)" font-size="30.9">groundwater</text>
<line x1="340.35" y1="1520.6" x2="340.35" y2="1527.8" stroke="#333333" stroke-width="3.4"/>
<text transform="translate(324.15,1550.2) rotate(45)" font-size="30.9">control</text>
<line x1="480.45" y1="1520.6" x2="480.45" y2="1527.8" stroke="#333333" stroke-width="3.4"/>
<text transform="translate(464.25,1550.2) rotate(45)" font-size="30.9">allylthiourea</text>
<text transform="translate(340.15,1028.2)" font-size="28.2" text-anchor="middle">Condition 1</text>
<rect x="681.3" y="1045.7" width="105.1" height="14.19" fill="#D73027"/>
<rect x="681.3" y="1059.89" width="105.1" height="1.89" fill="#F46D43"/>
<rect x="681.3" y="1061.79" width="105.1" height="3.31" fill="#FDAE61"/>
<rect x="681.3" y="1065.1" width="105.1" height="52.51" fill="#542788"/>
<rect x="681.3" y="1117.61" width="105.1" height="85.63" fill="#8073AC"/>
<rect x="681.3" y="1203.24" width="105.1" height="60.56" fill="#D8DAEB"/>
<rect x="681.3" y="1263.8" width="105.1" height="2.37" fill="#7A0177"/>
<rect x="681.3" y="1266.16" width="105.1" height="252.64" fill="#9A9A9A"/>
<rect x="821.7" y="1045.7" width="105.1" height="263.04" fill="#D73027"/>
<rect x="821.7" y="1308.74" width="105.1" height="25.07" fill="#FDAE61"/>
<rect x="821.7" y="1333.82" width="105.1" height="67.18" fill="#542788"/>
<rect x="821.7" y="1401" width="105.1" height="27.91" fill="#8073AC"/>
<rect x="821.7" y="1428.91" width="105.1" height="13.25" fill="#D8DAEB"/>
<rect x="821.7" y="1442.16" width="105.1" height="18.92" fill="#7A0177"/>
<rect x="821.7" y="1461.08" width="105.1" height="57.72" fill="#9A9A9A"/>
<rect x="961.8" y="1045.7" width="105.1" height="162.75" fill="#D73027"/>
<rect x="961.8" y="1208.45" width="105.1" height="67.18" fill="#FDAE61"/>
<rect x="961.8" y="1275.63" width="105.1" height="81.37" fill="#542788"/>
<rect x="961.8" y="1357" width="105.1" height="29.81" fill="#8073AC"/>
<rect x="961.8" y="1386.81" width="105.1" height="18.92" fill="#D8DAEB"/>
<rect x="961.8" y="1405.73" width="105.1" height="38.79" fill="#7A0177"/>
<rect x="961.8" y="1444.52" width="105.1" height="74.28" fill="#9A9A9A"/>
<line x1="640.9" y1="1518.8" x2="648" y2="1518.8" stroke="#333333" stroke-width="3.4"/>
<line x1="640.9" y1="1400.53" x2="648" y2="1400.53" stroke="#333333" stroke-width="3.4"/>
<line x1="640.9" y1="1282.25" x2="648" y2="1282.25" stroke="#333333" stroke-width="3.4"/>
<line x1="640.9" y1="1163.97" x2="648" y2="1163.97" stroke="#333333" stroke-width="3.4"/>
<line x1="640.9" y1="1045.7" x2="648" y2="1045.7" stroke="#333333" stroke-width="3.4"/>
<line x1="649.8" y1="1045.4" x2="649.8" y2="1520.6" stroke="#000" stroke-width="3.6"/>
<line x1="648" y1="1518.8" x2="1098.3" y2="1518.8" stroke="#000" stroke-width="3.6"/>
<line x1="733.85" y1="1520.6" x2="733.85" y2="1527.8" stroke="#333333" stroke-width="3.4"/>
<text transform="translate(717.65,1550.2) rotate(45)" font-size="30.9">groundwater</text>
<line x1="874.25" y1="1520.6" x2="874.25" y2="1527.8" stroke="#333333" stroke-width="3.4"/>
<text transform="translate(858.05,1550.2) rotate(45)" font-size="30.9">control</text>
<line x1="1014.35" y1="1520.6" x2="1014.35" y2="1527.8" stroke="#333333" stroke-width="3.4"/>
<text transform="translate(998.15,1550.2) rotate(45)" font-size="30.9">allylthiourea</text>
<text transform="translate(874.05,1028.2)" font-size="28.2" text-anchor="middle">Condition 2</text>
<rect x="1215.6" y="1045.7" width="105.1" height="76.17" fill="#D73027"/>
<rect x="1215.6" y="1121.87" width="105.1" height="45.42" fill="#F46D43"/>
<rect x="1215.6" y="1167.29" width="105.1" height="37.85" fill="#FDAE61"/>
<rect x="1215.6" y="1205.13" width="105.1" height="102.9" fill="#542788"/>
<rect x="1215.6" y="1308.03" width="105.1" height="3.08" fill="#8073AC"/>
<rect x="1215.6" y="1311.11" width="105.1" height="105.5" fill="#B2ABD2"/>
<rect x="1215.6" y="1416.61" width="105.1" height="32.64" fill="#7A0177"/>
<rect x="1215.6" y="1449.25" width="105.1" height="30.75" fill="#FCC5C0"/>
<rect x="1215.6" y="1480.01" width="105.1" height="38.79" fill="#9A9A9A"/>
<rect x="1356" y="1045.7" width="105.1" height="80.43" fill="#D73027"/>
<rect x="1356" y="1126.13" width="105.1" height="35.01" fill="#F46D43"/>
<rect x="1356" y="1161.14" width="105.1" height="36.43" fill="#FDAE61"/>
<rect x="1356" y="1197.57" width="105.1" height="108.34" fill="#542788"/>
<rect x="1356" y="1305.9" width="105.1" height="2.84" fill="#8073AC"/>
<rect x="1356" y="1308.74" width="105.1" height="114.49" fill="#B2ABD2"/>
<rect x="1356" y="1423.23" width="105.1" height="21.76" fill="#7A0177"/>
<rect x="1356" y="1445" width="105.1" height="38.79" fill="#FCC5C0"/>
<rect x="1356" y="1483.79" width="105.1" height="35.01" fill="#9A9A9A"/>
<rect x="1496.1" y="1045.7" width="105.1" height="75.22" fill="#D73027"/>
<rect x="1496.1" y="1120.92" width="105.1" height="43.76" fill="#F46D43"/>
<rect x="1496.1" y="1164.68" width="105.1" height="31.93" fill="#FDAE61"/>
<rect x="1496.1" y="1196.62" width="105.1" height="110.94" fill="#542788"/>
<rect x="1496.1" y="1307.56" width="105.1" height="4.49" fill="#8073AC"/>
<rect x="1496.1" y="1312.06" width="105.1" height="102.19" fill="#B2ABD2"/>
<rect x="1496.1" y="1414.24" width="105.1" height="25.07" fill="#7A0177"/>
<rect x="1496.1" y="1439.32" width="105.1" height="40.69" fill="#FCC5C0"/>
<rect x="1496.1" y="1480.01" width="105.1" height="38.79" fill="#9A9A9A"/>
<line x1="1175.2" y1="1518.8" x2="1182.3" y2="1518.8" stroke="#333333" stroke-width="3.4"/>
<line x1="1175.2" y1="1400.53" x2="1182.3" y2="1400.53" stroke="#333333" stroke-width="3.4"/>
<line x1="1175.2" y1="1282.25" x2="1182.3" y2="1282.25" stroke="#333333" stroke-width="3.4"/>
<line x1="1175.2" y1="1163.97" x2="1182.3" y2="1163.97" stroke="#333333" stroke-width="3.4"/>
<line x1="1175.2" y1="1045.7" x2="1182.3" y2="1045.7" stroke="#333333" stroke-width="3.4"/>
<line x1="1184.1" y1="1045.4" x2="1184.1" y2="1520.6" stroke="#000" stroke-width="3.6"/>
<line x1="1182.3" y1="1518.8" x2="1632.6" y2="1518.8" stroke="#000" stroke-width="3.6"/>
<line x1="1268.15" y1="1520.6" x2="1268.15" y2="1527.8" stroke="#333333" stroke-width="3.4"/>
<text transform="translate(1251.95,1550.2) rotate(45)" font-size="30.9">groundwater</text>
<line x1="1408.55" y1="1520.6" x2="1408.55" y2="1527.8" stroke="#333333" stroke-width="3.4"/>
<text transform="translate(1392.35,1550.2) rotate(45)" font-size="30.9">control</text>
<line x1="1548.65" y1="1520.6" x2="1548.65" y2="1527.8" stroke="#333333" stroke-width="3.4"/>
<text transform="translate(1532.45,1550.2) rotate(45)" font-size="30.9">allylthiourea</text>
<text transform="translate(1408.35,1028.2)" font-size="28.2" text-anchor="middle">Condition 3</text>
<text transform="translate(30.7,1494.9) rotate(-90)" font-size="34.5">Relative read abundance (%)</text>
<rect x="147.4" y="1767.6" width="105.1" height="208.5" fill="#253494"/>
<rect x="147.4" y="1976.1" width="105.1" height="196.21" fill="#225EA8"/>
<rect x="147.4" y="2172.32" width="105.1" height="2.84" fill="#1D91C0"/>
<rect x="147.4" y="2175.15" width="105.1" height="19.62" fill="#41B6C4"/>
<rect x="147.4" y="2194.77" width="105.1" height="0.71" fill="#7FCDBB"/>
<rect x="147.4" y="2195.48" width="105.1" height="0.71" fill="#EDF8B1"/>
<rect x="147.4" y="2196.19" width="105.1" height="44.21" fill="#A3A3A3"/>
<rect x="287.8" y="1767.6" width="105.1" height="365.47" fill="#253494"/>
<rect x="287.8" y="2133.07" width="105.1" height="75.18" fill="#225EA8"/>
<rect x="287.8" y="2208.25" width="105.1" height="6.15" fill="#1D91C0"/>
<rect x="287.8" y="2214.4" width="105.1" height="8.98" fill="#41B6C4"/>
<rect x="287.8" y="2223.38" width="105.1" height="1.65" fill="#EDF8B1"/>
<rect x="287.8" y="2225.03" width="105.1" height="15.37" fill="#A3A3A3"/>
<rect x="427.9" y="1767.6" width="105.1" height="271.39" fill="#253494"/>
<rect x="427.9" y="2038.99" width="105.1" height="144.68" fill="#225EA8"/>
<rect x="427.9" y="2183.66" width="105.1" height="3.78" fill="#1D91C0"/>
<rect x="427.9" y="2187.45" width="105.1" height="28.37" fill="#41B6C4"/>
<rect x="427.9" y="2215.81" width="105.1" height="0.95" fill="#7FCDBB"/>
<rect x="427.9" y="2216.76" width="105.1" height="0.71" fill="#EDF8B1"/>
<rect x="427.9" y="2217.47" width="105.1" height="22.93" fill="#A3A3A3"/>
<line x1="107" y1="2240.4" x2="114.1" y2="2240.4" stroke="#333333" stroke-width="3.4"/>
<text transform="translate(99.3,2251.4)" font-size="31" text-anchor="end" fill="#1a1a1a">0</text>
<line x1="107" y1="2122.2" x2="114.1" y2="2122.2" stroke="#333333" stroke-width="3.4"/>
<text transform="translate(99.3,2133.2)" font-size="31" text-anchor="end" fill="#1a1a1a">25</text>
<line x1="107" y1="2004" x2="114.1" y2="2004" stroke="#333333" stroke-width="3.4"/>
<text transform="translate(99.3,2015)" font-size="31" text-anchor="end" fill="#1a1a1a">50</text>
<line x1="107" y1="1885.8" x2="114.1" y2="1885.8" stroke="#333333" stroke-width="3.4"/>
<text transform="translate(99.3,1896.8)" font-size="31" text-anchor="end" fill="#1a1a1a">75</text>
<line x1="107" y1="1767.6" x2="114.1" y2="1767.6" stroke="#333333" stroke-width="3.4"/>
<text transform="translate(99.3,1778.6)" font-size="31" text-anchor="end" fill="#1a1a1a">100</text>
<line x1="115.9" y1="1767.3" x2="115.9" y2="2242.2" stroke="#000" stroke-width="3.6"/>
<line x1="114.1" y1="2240.4" x2="564.4" y2="2240.4" stroke="#000" stroke-width="3.6"/>
<line x1="199.95" y1="2242.2" x2="199.95" y2="2249.4" stroke="#333333" stroke-width="3.4"/>
<text transform="translate(183.75,2271.9) rotate(45)" font-size="30.9">groundwater</text>
<line x1="340.35" y1="2242.2" x2="340.35" y2="2249.4" stroke="#333333" stroke-width="3.4"/>
<text transform="translate(324.15,2271.9) rotate(45)" font-size="30.9">control</text>
<line x1="480.45" y1="2242.2" x2="480.45" y2="2249.4" stroke="#333333" stroke-width="3.4"/>
<text transform="translate(464.25,2271.9) rotate(45)" font-size="30.9">chlorate</text>
<text transform="translate(340.15,1749.9)" font-size="28.2" text-anchor="middle">Condition 1</text>
<rect x="681.3" y="1767.6" width="105.1" height="12.77" fill="#253494"/>
<rect x="681.3" y="1780.37" width="105.1" height="161.7" fill="#1D91C0"/>
<rect x="681.3" y="1942.06" width="105.1" height="59.1" fill="#EDF8B1"/>
<rect x="681.3" y="2001.16" width="105.1" height="128.13" fill="#C7E9B4"/>
<rect x="681.3" y="2129.29" width="105.1" height="111.11" fill="#A3A3A3"/>
<rect x="821.7" y="1767.6" width="105.1" height="412.75" fill="#253494"/>
<rect x="821.7" y="2180.35" width="105.1" height="3.31" fill="#225EA8"/>
<rect x="821.7" y="2183.66" width="105.1" height="9.46" fill="#1D91C0"/>
<rect x="821.7" y="2193.12" width="105.1" height="25.53" fill="#EDF8B1"/>
<rect x="821.7" y="2218.65" width="105.1" height="2.36" fill="#C7E9B4"/>
<rect x="821.7" y="2221.02" width="105.1" height="19.38" fill="#A3A3A3"/>
<rect x="961.8" y="1767.6" width="105.1" height="287.46" fill="#253494"/>
<rect x="961.8" y="2055.06" width="105.1" height="31.2" fill="#225EA8"/>
<rect x="961.8" y="2086.27" width="105.1" height="45.39" fill="#1D91C0"/>
<rect x="961.8" y="2131.66" width="105.1" height="1.42" fill="#41B6C4"/>
<rect x="961.8" y="2133.07" width="105.1" height="63.83" fill="#EDF8B1"/>
<rect x="961.8" y="2196.9" width="105.1" height="2.36" fill="#C7E9B4"/>
<rect x="961.8" y="2199.27" width="105.1" height="41.13" fill="#A3A3A3"/>
<line x1="640.9" y1="2240.4" x2="648" y2="2240.4" stroke="#333333" stroke-width="3.4"/>
<line x1="640.9" y1="2122.2" x2="648" y2="2122.2" stroke="#333333" stroke-width="3.4"/>
<line x1="640.9" y1="2004" x2="648" y2="2004" stroke="#333333" stroke-width="3.4"/>
<line x1="640.9" y1="1885.8" x2="648" y2="1885.8" stroke="#333333" stroke-width="3.4"/>
<line x1="640.9" y1="1767.6" x2="648" y2="1767.6" stroke="#333333" stroke-width="3.4"/>
<line x1="649.8" y1="1767.3" x2="649.8" y2="2242.2" stroke="#000" stroke-width="3.6"/>
<line x1="648" y1="2240.4" x2="1098.3" y2="2240.4" stroke="#000" stroke-width="3.6"/>
<line x1="733.85" y1="2242.2" x2="733.85" y2="2249.4" stroke="#333333" stroke-width="3.4"/>
<text transform="translate(717.65,2271.9) rotate(45)" font-size="30.9">groundwater</text>
<line x1="874.25" y1="2242.2" x2="874.25" y2="2249.4" stroke="#333333" stroke-width="3.4"/>
<text transform="translate(858.05,2271.9) rotate(45)" font-size="30.9">control</text>
<line x1="1014.35" y1="2242.2" x2="1014.35" y2="2249.4" stroke="#333333" stroke-width="3.4"/>
<text transform="translate(998.15,2271.9) rotate(45)" font-size="30.9">chlorate</text>
<text transform="translate(874.05,1749.9)" font-size="28.2" text-anchor="middle">Condition 2</text>
<rect x="1215.6" y="1767.6" width="105.1" height="383.44" fill="#253494"/>
<rect x="1215.6" y="2151.04" width="105.1" height="4.26" fill="#225EA8"/>
<rect x="1215.6" y="2155.3" width="105.1" height="9.46" fill="#1D91C0"/>
<rect x="1215.6" y="2164.75" width="105.1" height="24.11" fill="#7FCDBB"/>
<rect x="1215.6" y="2188.86" width="105.1" height="51.54" fill="#A3A3A3"/>
<rect x="1356" y="1767.6" width="105.1" height="472.8" fill="#253494"/>
<rect x="1496.1" y="1767.6" width="105.1" height="472.8" fill="#253494"/>
<line x1="1175.2" y1="2240.4" x2="1182.3" y2="2240.4" stroke="#333333" stroke-width="3.4"/>
<line x1="1175.2" y1="2122.2" x2="1182.3" y2="2122.2" stroke="#333333" stroke-width="3.4"/>
<line x1="1175.2" y1="2004" x2="1182.3" y2="2004" stroke="#333333" stroke-width="3.4"/>
<line x1="1175.2" y1="1885.8" x2="1182.3" y2="1885.8" stroke="#333333" stroke-width="3.4"/>
<line x1="1175.2" y1="1767.6" x2="1182.3" y2="1767.6" stroke="#333333" stroke-width="3.4"/>
<line x1="1184.1" y1="1767.3" x2="1184.1" y2="2242.2" stroke="#000" stroke-width="3.6"/>
<line x1="1182.3" y1="2240.4" x2="1632.6" y2="2240.4" stroke="#000" stroke-width="3.6"/>
<line x1="1268.15" y1="2242.2" x2="1268.15" y2="2249.4" stroke="#333333" stroke-width="3.4"/>
<text transform="translate(1251.95,2271.9) rotate(45)" font-size="30.9">groundwater</text>
<line x1="1408.55" y1="2242.2" x2="1408.55" y2="2249.4" stroke="#333333" stroke-width="3.4"/>
<text transform="translate(1392.35,2271.9) rotate(45)" font-size="30.9">control</text>
<line x1="1548.65" y1="2242.2" x2="1548.65" y2="2249.4" stroke="#333333" stroke-width="3.4"/>
<text transform="translate(1532.45,2271.9) rotate(45)" font-size="30.9">chlorate</text>
<text transform="translate(1408.35,1749.9)" font-size="28.2" text-anchor="middle">Condition 3</text>
<text transform="translate(30.7,2216.6) rotate(-90)" font-size="34.5">Relative read abundance (%)</text>
<rect x="1701.5" y="1034.3" width="40.7" height="48.7" fill="#D73027"/>
<text transform="translate(1761.9,1052.4)" font-size="27.5">CMX Otu1</text>
<text transform="translate(1761.9,1078.6)" font-size="28.2">clade A</text>
<rect x="1701.5" y="1087.34" width="40.7" height="48.7" fill="#F46D43"/>
<text transform="translate(1761.9,1105.44)" font-size="27.5">CMX Otu5</text>
<text transform="translate(1761.9,1131.64)" font-size="28.2">clade A</text>
<rect x="1701.5" y="1140.38" width="40.7" height="48.7" fill="#FDAE61"/>
<text transform="translate(1761.9,1158.48)" font-size="27.5">CMX Otu7</text>
<text transform="translate(1761.9,1184.68)" font-size="28.2">clade A</text>
<rect x="1701.5" y="1193.42" width="40.7" height="48.7" fill="#542788"/>
<text transform="translate(1761.9,1211.52)" font-size="27.5">CMX Otu2</text>
<text transform="translate(1761.9,1237.72)" font-size="28.2">clade B</text>
<rect x="1701.5" y="1246.46" width="40.7" height="48.7" fill="#8073AC"/>
<text transform="translate(1761.9,1264.56)" font-size="27.5">CMX Otu3</text>
<text transform="translate(1761.9,1290.76)" font-size="28.2">clade B</text>
<rect x="1701.5" y="1299.5" width="40.7" height="48.7" fill="#B2ABD2"/>
<text transform="translate(1761.9,1317.6)" font-size="27.5">CMX Otu4</text>
<text transform="translate(1761.9,1343.8)" font-size="28.2">clade B</text>
<rect x="1701.5" y="1352.54" width="40.7" height="48.7" fill="#D8DAEB"/>
<text transform="translate(1761.9,1370.64)" font-size="27.5">CMX Otu6</text>
<text transform="translate(1761.9,1396.84)" font-size="28.2">clade B</text>
<rect x="1701.5" y="1405.58" width="40.7" height="48.7" fill="#7A0177"/>
<text transform="translate(1761.9,1423.68)" font-size="27.5">CMX Otu8</text>
<text transform="translate(1761.9,1449.88)" font-size="28.2">clade B</text>
<rect x="1701.5" y="1458.62" width="40.7" height="48.7" fill="#FCC5C0"/>
<text transform="translate(1761.9,1476.72)" font-size="27.5">CMX Otu9</text>
<text transform="translate(1761.9,1502.92)" font-size="28.2">clade B</text>
<rect x="1701.5" y="1512" width="40.7" height="40.1" fill="#9A9A9A"/>
<text transform="translate(1761.9,1539.1)" font-size="28.2">other CMX &lt; 2%</text>
<rect x="1701.5" y="1807.2" width="40.7" height="48.7" fill="#253494"/>
<text transform="translate(1761.9,1825.3)" font-size="27.5">AOB Otu1</text>
<text transform="translate(1761.9,1851.5)" font-size="28.2"><tspan font-style="italic">Nitrosomonas urea</tspan></text>
<rect x="1701.5" y="1860.27" width="40.7" height="48.7" fill="#225EA8"/>
<text transform="translate(1761.9,1878.37)" font-size="27.5">AOB Otu2</text>
<text transform="translate(1761.9,1904.57)" font-size="28.2"><tspan font-style="italic">Nitrosospira</tspan> sp.</text>
<rect x="1701.5" y="1913.34" width="40.7" height="48.7" fill="#1D91C0"/>
<text transform="translate(1761.9,1931.44)" font-size="27.5">AOB Otu3</text>
<text transform="translate(1761.9,1957.64)" font-size="28.2"><tspan font-style="italic">Nitrosospira</tspan> sp.</text>
<rect x="1701.5" y="1966.41" width="40.7" height="48.7" fill="#41B6C4"/>
<text transform="translate(1761.9,1984.51)" font-size="27.5">AOB Otu5</text>
<text transform="translate(1761.9,2010.71)" font-size="28.2"><tspan font-style="italic">Nitrosospira lacus</tspan></text>
<rect x="1701.5" y="2019.48" width="40.7" height="48.7" fill="#7FCDBB"/>
<text transform="translate(1761.9,2037.58)" font-size="27.5">AOB Otu4</text>
<text transform="translate(1761.9,2063.78)" font-size="28.2"><tspan font-style="italic">Nitrosospira</tspan> sp.</text>
<rect x="1701.5" y="2072.55" width="40.7" height="48.7" fill="#EDF8B1"/>
<text transform="translate(1761.9,2090.65)" font-size="27.5">AOB Otu7</text>
<text transform="translate(1761.9,2116.85)" font-size="28.2"><tspan font-style="italic">Nitrosospira</tspan> sp.</text>
<rect x="1701.5" y="2125.62" width="40.7" height="48.7" fill="#C7E9B4"/>
<text transform="translate(1761.9,2143.72)" font-size="27.5">AOB Otu8</text>
<text transform="translate(1761.9,2169.92)" font-size="28.2"><tspan font-style="italic">Nitrosospira lacus</tspan></text>
<rect x="1701.5" y="2178.6" width="40.7" height="39.8" fill="#A3A3A3"/>
<text transform="translate(1761.9,2205.3)" font-size="28.2">other AOB &lt; 2%</text>
</svg>
</body></html>
